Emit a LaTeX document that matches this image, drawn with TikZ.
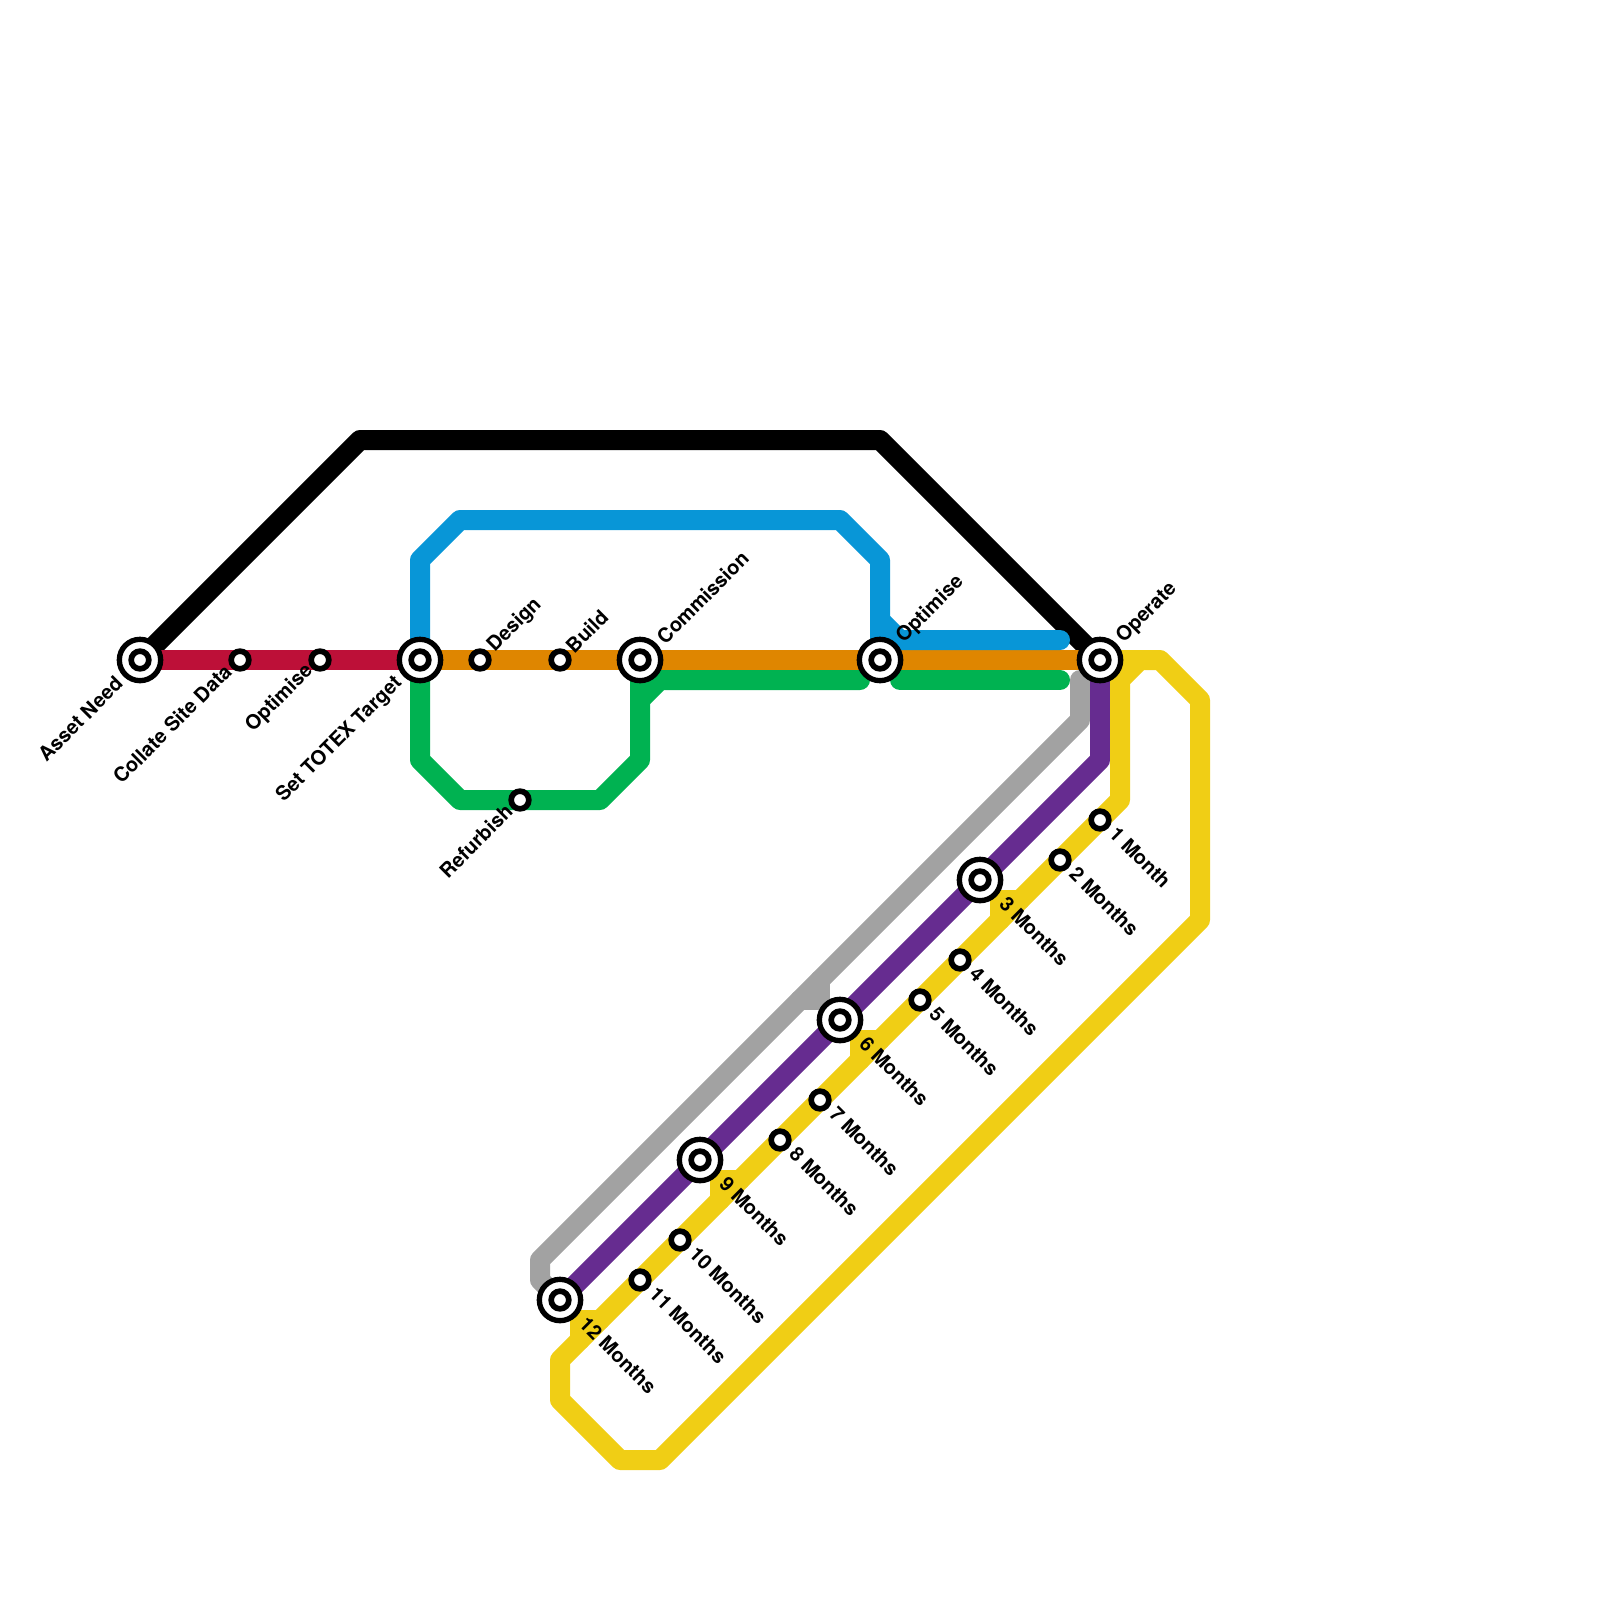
\documentclass[tikz,border=0pt]{standalone}
\usepackage{fontspec}
\setmainfont{TeX Gyre Heros}
\usetikzlibrary{backgrounds,calc}
\definecolor{crim}{HTML}{BD1038}
\definecolor{orng}{HTML}{DF8600}
\definecolor{blu}{HTML}{0896D7}
\definecolor{grn}{HTML}{00B251}
\definecolor{gry}{HTML}{A2A2A2}
\definecolor{purp}{HTML}{662C90}
\definecolor{yel}{HTML}{F0CE15}
\tikzset{
  metro/.style={line width=20pt,line cap=round,line join=round},
  stop/.style={circle,draw=black,fill=white,line width=5.67pt,inner sep=0pt,minimum size=17.67pt},
  hub/.style={circle,draw=black,fill=white,line width=5.33pt,inner sep=0pt,minimum size=41.33pt,
    path picture={\draw[black,line width=5.67pt] (path picture bounding box.center) circle (8.83pt);}},
  lab/.style={font=\bfseries\fontsize{20}{20}\selectfont,inner sep=0pt,text=black},
  labur/.style={lab,rotate=45,anchor=west},
  labll/.style={lab,rotate=45,anchor=east},
  labdr/.style={lab,rotate=-45,anchor=west},
}
\begin{document}
\begin{tikzpicture}[x=1pt,y=-1pt]
\useasboundingbox (0,0) rectangle (1600,1600);
% stations
\node[hub] (asset) at (140,660) {};
\node[stop] (collate) at (240,660) {};
\node[stop] (optA) at (320,660) {};
\node[hub] (totex) at (420,660) {};
\node[stop] (design) at (480,660) {};
\node[stop] (build) at (560,660) {};
\node[hub] (comm) at (640,660) {};
\node[hub] (optB) at (880,660) {};
\node[hub] (operate) at (1100,660) {};
\node[stop] (refurb) at (520,800) {};
\node[stop] (m1) at (1100,820) {};
\node[stop] (m2) at (1060,860) {};
\node[hub] (m3) at (980,880) {};
\node[stop] (m4) at (960,960) {};
\node[stop] (m5) at (920,1000) {};
\node[hub] (m6) at (840,1020) {};
\node[stop] (m7) at (820,1100) {};
\node[stop] (m8) at (780,1140) {};
\node[hub] (m9) at (700,1160) {};
\node[stop] (m10) at (680,1240) {};
\node[stop] (m11) at (640,1280) {};
\node[hub] (m12) at (560,1300) {};
% free line ends
\coordinate (blueEnd) at (1060,640);
\coordinate (greenEndA) at (860,680);
\coordinate (greenStartB) at (900,680);
\coordinate (greenEndB) at (1060,680);
\coordinate (grayTop) at (1080,680);
\begin{scope}[on background layer]
\draw[metro,black] (asset.center) -- (360,440) -- (880,440) -- (operate.center);
\draw[metro,crim] (asset.center) -- (totex.center);
\draw[metro,orng] (totex.center) -- (operate.center);
\draw[metro,blu] (totex.center) -- (420,560) -- (460,520) -- (840,520) -- (880,560) -- (optB.center);
\draw[metro,blu] (880,620) -- (900,640) -- (blueEnd);
\draw[metro,grn] (totex.center) -- (420,760) -- (460,800) -- (600,800) -- (640,760) -- (comm.center);
\draw[metro,grn] (640,700) -- (660,680) -- (greenEndA);
\draw[metro,grn] (greenStartB) -- (greenEndB);
\draw[metro,gry] (grayTop) -- (1080,720) -- (540,1260) -- (540,1280) -- (m12.center);
\draw[metro,gry] (820,980) -- (820,1000) -- (800,1000);
\draw[metro,purp] (operate.center) -- (1100,760) -- (m12.center);
\draw[metro,yel] (operate.center) -- (1160,660) -- (1200,700) -- (1200,920) -- (660,1460) -- (620,1460) -- (560,1400) -- (560,1360)
  -- (1120,800) -- (1120,680) -- (1140,660);
\draw[metro,yel] (1020,900) -- (1000,900) -- (1000,920);
\draw[metro,yel] (880,1040) -- (860,1040) -- (860,1060);
\draw[metro,yel] (740,1180) -- (720,1180) -- (720,1200);
\draw[metro,yel] (600,1320) -- (580,1320) -- (580,1340);
\end{scope}
% labels
\node[labll] (tAsset) at ($(asset)+(-21,20)$) {Asset Need};
\node[labll] (tCollate) at ($(collate)+(-12,8)$) {Collate Site Data};
\node[labll] (tOptA) at ($(optA)+(-10,8)$) {Optimise};
\node[labll] (tTotex) at ($(totex)+(-21,20)$) {Set TOTEX Target};
\node[labll] (tRefurb) at ($(refurb)+(-11,8)$) {Refurbish};
\node[labur] (tDesign) at ($(design)+(11,-11)$) {Design};
\node[labur] (tBuild) at ($(build)+(9,-11)$) {Build};
\node[labur] (tComm) at ($(comm)+(20,-20)$) {Commission};
\node[labur] (tOptB) at ($(optB)+(20,-20)$) {Optimise};
\node[labur] (tOperate) at ($(operate)+(20,-20)$) {Operate};
\node[labdr] (t1) at ($(m1)+(13,10)$) {1 Month};
\node[labdr] (t2) at ($(m2)+(13,10)$) {2 Months};
\node[labdr] (t3) at ($(m3)+(23,20)$) {3 Months};
\node[labdr] (t4) at ($(m4)+(13,10)$) {4 Months};
\node[labdr] (t5) at ($(m5)+(13,10)$) {5 Months};
\node[labdr] (t6) at ($(m6)+(23,20)$) {6 Months};
\node[labdr] (t7) at ($(m7)+(13,10)$) {7 Months};
\node[labdr] (t8) at ($(m8)+(13,10)$) {8 Months};
\node[labdr] (t9) at ($(m9)+(23,20)$) {9 Months};
\node[labdr] (t10) at ($(m10)+(13,10)$) {10 Months};
\node[labdr] (t11) at ($(m11)+(13,10)$) {11 Months};
\node[labdr] (t12) at ($(m12)+(23,20)$) {12 Months};
\end{tikzpicture}
\end{document}
